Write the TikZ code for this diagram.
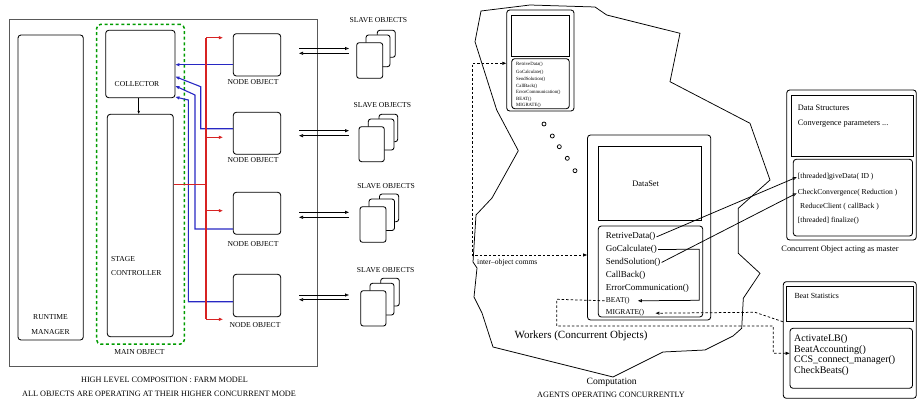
\documentclass[tikz,border=0pt]{standalone}
\usepackage{fontspec}
\setmainfont{Liberation Serif}
\usetikzlibrary{arrows.meta,calc}

\definecolor{farmred}{RGB}{215,35,35}
\definecolor{farmblue}{RGB}{40,40,195}
\definecolor{farmgreen}{RGB}{0,155,0}

\newcommand\fcaps{\fontsize{7.6}{9}\selectfont}
\newcommand\fcapt{\fontsize{8.2}{10}\selectfont}
\newcommand\ftiny{\fontsize{4.8}{5.5}\selectfont}
\newcommand\fmeth{\fontsize{9}{11}\selectfont}
\newcommand\fsmeth{\fontsize{7.5}{9}\selectfont}
\newcommand\flab{\fontsize{8.3}{10}\selectfont}
\newcommand\fmast{\fontsize{7.6}{9}\selectfont}
\newcommand\fbeat{\fontsize{10}{12}\selectfont}

\tikzset{
  rbox/.style={draw, rounded corners=3pt, line width=0.85pt, fill=white, inner sep=0pt},
  sbox/.style={draw, line width=0.85pt, fill=white, inner sep=0pt},
  lbl/.style={inner sep=0pt, anchor=mid},
  lbw/.style={inner sep=0pt, anchor=mid west},
  mtx/.style={inner sep=1pt, anchor=mid west},
  bluel/.style={draw=farmblue, line width=1.1pt},
  redl/.style={draw=farmred, line width=1.1pt},
  opent/.style={-{Triangle[open,length=4pt,width=3pt]}},
  filt/.style={-{Triangle[length=4pt,width=3pt]}},
  slave/.style={draw, rounded corners=2.5pt, line width=0.85pt, fill=white},
  dashln/.style={dash pattern=on 2.5pt off 2pt, line width=0.75pt},
  ring/.style={draw, circle, line width=0.75pt, minimum size=4pt, inner sep=0pt},
}

\begin{document}
\begin{tikzpicture}[x=1pt,y=-1pt]
\useasboundingbox (0,0) rectangle (917,401);

% ---------------- farm model ----------------
\node[draw=black!65, line width=0.75pt, minimum width=308pt, minimum height=347pt, inner sep=0pt] (frame) at (163,192.5) {};
\node[rbox, minimum width=65.3pt, minimum height=305pt] (rtm) at (50.65,187.5) {};
\node[lbl] (rtml1) at (50.5,317) {\fcaps RUNTIME};
\node[lbl] (rtml2) at (50.5,332) {\fcaps MANAGER};

\node[draw=farmgreen, rounded corners=4pt, line width=1.5pt, dash pattern=on 3pt off 2.6pt, minimum width=87.6pt, minimum height=319.7pt, inner sep=0pt] (mainobj) at (140.5,184.2) {};
\node[lbl] (mainl) at (139.5,352.5) {\fcaps MAIN OBJECT};

\node[rbox, minimum width=69.3pt, minimum height=67.4pt] (coll) at (140.35,64) {};
\node[lbl] (colll) at (137,84.5) {\fcaps COLLECTOR};
\node[rbox, minimum width=66pt, minimum height=222.4pt] (stage) at (140.3,225.5) {};
\node[lbw] (stl1) at (111,259.5) {\fcaps STAGE};
\node[lbw] (stl2) at (111,273.5) {\fcaps CONTROLLER};
\draw[line width=0.75pt, -{Triangle[open,length=3pt,width=2.4pt]}] (coll.south -| 138.7,0) -- (stage.north -| 138.7,0);

% node objects
\node[rbox, minimum width=47.4pt, minimum height=42.3pt] (n1) at (257,54.85) {};
\node[rbox, minimum width=47.4pt, minimum height=42pt] (n2) at (257,133.3) {};
\node[rbox, minimum width=47.4pt, minimum height=42pt] (n3) at (257,213.3) {};
\node[rbox, minimum width=47.4pt, minimum height=42.4pt] (n4) at (257,295.5) {};
\node[lbl] (n1l) at (253,82.5) {\fcaps NODE OBJECT};
\node[lbl] (n2l) at (253,160.5) {\fcaps NODE OBJECT};
\node[lbl] (n3l) at (253,244.5) {\fcaps NODE OBJECT};
\node[lbl] (n4l) at (255,325) {\fcaps NODE OBJECT};

% results back to the collector
\draw[bluel, opent] (n1.west |- 0,64.7) -- (coll.east |- 0,64.7);
\draw[bluel, opent] (n2.west |- 0,128.7) -- (200.7,128.7) -- (200.7,86.7) -- (coll.east |- 0,76.7);
\draw[bluel, opent] (n3.west |- 0,229) -- (195,229) -- (195,95) -- (coll.east |- 0,86);
\draw[bluel, opent] (n4.west |- 0,301.7) -- (188.3,301.7) -- (188.3,100) -- (coll.east |- 0,97);

% work distributed by the stage controller
\draw[redl] (stage.east |- 0,184.3) -- (206,184.3);
\draw[redl] (206,37.7) -- (206,319.3);
\coordinate (r1) at ($(n1.west |- 0,37.7)+(-10,0)$);
\coordinate (r2) at ($(n2.west |- 0,137.3)+(-10,0)$);
\coordinate (r3) at ($(n3.west |- 0,210.7)+(-10,0)$);
\coordinate (r4) at ($(n4.west |- 0,319.3)+(-10,0)$);
\foreach \r in {r1,r2,r3,r4}{\draw[redl, opent] (206,0 |- \r) -- (\r);}

% node <-> slave exchanges
\foreach \ya/\yb in {48.5/53.3, 130.7/135.7, 212.3/217.3, 295/299.7}{
  \draw[line width=0.75pt, opent] (299,\ya) -- (349,\ya);
  \draw[line width=0.75pt, opent] (349,\yb) -- (299,\yb);
}

% slave object stacks
\draw[slave] (377.3,30.3) rectangle (395.3,57.3);
\draw[slave] (366,35) rectangle (390,66.7);
\draw[slave] (356.7,42.7) rectangle (382.7,78.3);
\node[lbl] (sl1) at (378.3,20) {\fcaps SLAVE OBJECTS};

\draw[slave] (379,114.3) rectangle (397.7,141.7);
\draw[slave] (368.3,119) rectangle (394,150);
\draw[slave] (359,126.7) rectangle (384.3,161.7);
\node[lbl] (sl2) at (382.3,105.3) {\fcaps SLAVE OBJECTS};

\draw[slave] (379.5,194) rectangle (398.7,221.7);
\draw[slave] (369,199) rectangle (394.5,230.5);
\draw[slave] (360,206.7) rectangle (386,242.3);
\node[lbl] (sl3) at (386,186) {\fcaps SLAVE OBJECTS};

\draw[slave] (380.7,278.3) rectangle (399.3,306);
\draw[slave] (370,283.3) rectangle (394,315);
\draw[slave] (360.7,290.7) rectangle (386,326);
\node[lbl] (sl4) at (385.7,270.7) {\fcaps SLAVE OBJECTS};

\node[lbl] (capa) at (164.5,380.5) {\fcapt HIGH LEVEL COMPOSITION : FARM MODEL};
\node[lbl] (capb) at (159,393.8) {\fcapt ALL OBJECTS ARE OPERATING AT THEIR HIGHER CONCURRENT MODE};

% ---------------- computation ----------------
\draw[line width=0.75pt] (481,11) -- (530,5) -- (595,7) -- (606.7,15) -- (680,33.3) -- (670,81.7)
  -- (750,123.3) -- (770,180) -- (738.3,208.3) -- (738.3,253.3) -- (760,273.3) -- (743.3,298.3)
  -- (741.7,328.3) -- (733,336) -- (705,350) -- (663,352) -- (613,377) -- (493,347) -- (482,313)
  -- (474,297) -- (477,268) -- (473,262) -- (476,215) -- (492,198) -- (518.3,150.7)
  -- (496.7,110) -- (475,41.7) -- cycle;

% small worker
\node[rbox, minimum width=67.3pt, minimum height=101pt] (sOuter) at (540.35,60.5) {};
\node[sbox, minimum width=57.3pt, minimum height=41pt] (sTop) at (540.35,35.5) {};
\node[rbox, minimum width=57.6pt, minimum height=50pt] (sMeth) at (540.5,83.7) {};
\node[lbw] (s1) at (516,63.3) {\ftiny RetriveData()};
\node[lbw] (s2) at (516,71.3) {\ftiny GoCalculate()};
\node[lbw] (s3) at (516,78.7) {\ftiny SendSolution()};
\node[lbw] (s4) at (516,85.3) {\ftiny CallBack()};
\node[lbw] (s5) at (516,91.7) {\ftiny ErrorCommunication()};
\node[lbw] (s6) at (516,98.5) {\ftiny BEAT()};
\node[lbw] (s7) at (516,104.5) {\ftiny MIGRATE()};

\node[ring] (d1) at (544,124) {};
\node[ring] (d2) at (552.3,136) {};
\node[ring] (d3) at (559.3,146.7) {};
\node[ring] (d4) at (567.3,158.3) {};
\node[ring] (d5) at (575,170.7) {};

% big worker
\node[rbox, minimum width=123.2pt, minimum height=185pt] (bOuter) at (649.1,227.5) {};
\node[sbox, minimum width=103.4pt, minimum height=74pt] (bData) at (650,183) {};
\node[lbl] (bDatal) at (645.7,184.3) {\fontsize{8.4}{10}\selectfont DataSet};
\node[rbox, minimum width=104.4pt, minimum height=91pt] (bMeth) at (650.5,271.5) {};
\node[mtx] (mRet) at (604.7,236.7) {\fmeth RetriveData()};
\node[mtx] (mGo) at (604.7,249.3) {\fmeth GoCalculate()};
\node[mtx] (mSend) at (604.7,262.3) {\fmeth SendSolution()};
\node[mtx] (mCall) at (604.7,275.3) {\fmeth CallBack()};
\node[mtx] (mErr) at (604.7,288) {\fmeth ErrorCommunication()};
\node[mtx] (mBeat) at (604.7,300.3) {\fsmeth BEAT()};
\node[mtx] (mMig) at (604.7,312.7) {\fsmeth MIGRATE()};

\draw[line width=0.75pt, opent] (mGo.east) -- (699.3,249.3) -- (699.3,300.3) -- ([xshift=7pt]mBeat.east);

\node[lbl] (workl) at (581,336.5) {\fontsize{11}{13}\selectfont Workers (Concurrent Objects)};
\node[lbl] (compl) at (611.7,382) {\fontsize{9.6}{11}\selectfont Computation};
\node[lbl] (agl) at (611,395) {\fcapt AGENTS OPERATING CONCURRENTLY};

% inter-object communication
\draw[dashln, {Triangle[length=4pt,width=3pt]}-{Triangle[length=4pt,width=3pt]}] (sOuter.west |- 0,63.3) -- (472.3,63.3) -- (472.3,255) -- (bOuter.west |- 0,255);
\node[lbw] (iocl) at (477,262) {\fontsize{7.6}{9}\selectfont inter--object comms};

% master object
\node[rbox, minimum width=129.6pt, minimum height=150pt] (mOuter) at (851.5,165) {};
\node[sbox, minimum width=122.5pt, minimum height=61.7pt] (mHead) at (852.25,125.85) {};
\node[lbw] (mh1) at (797.7,108.3) {\flab Data Structures};
\node[lbw] (mh2) at (797.7,123.3) {\flab Convergence parameters ...};
\node[rbox, minimum width=119.2pt, minimum height=76.7pt] (mMeth) at (852.9,197.65) {};
\node[mtx] (gGive) at (796.7,176.7) {\fmast [threaded]giveData( ID )};
\node[mtx] (gConv) at (796.7,192.7) {\fmast CheckConvergence( Reduction )};
\node[mtx] (gRed) at (799,206) {\fmast ReduceClient ( callBack )};
\node[mtx] (gFin) at (796.7,220.7) {\fmast [threaded] finalize()};
\node[lbl] (mcap) at (840,249.3) {\flab Concurrent Object acting as master};

\draw[line width=0.75pt, opent] (mRet.east) -- (gGive.west);
\draw[line width=0.75pt, opent] (mSend.east) -- (gConv.west);

% beat statistics object
\node[rbox, minimum width=133pt, minimum height=116.6pt] (tOuter) at (849.8,340) {};
\node[sbox, minimum width=126.8pt, minimum height=35pt] (tHead) at (850.1,304.2) {};
\node[lbw] (th) at (794.3,296) {\fontsize{7.8}{9}\selectfont Beat Statistics};
\node[rbox, minimum width=122.5pt, minimum height=60pt] (tMeth) at (851.25,358.3) {};
\node[mtx] (tA) at (793,339.3) {\fbeat ActivateLB()};
\node[mtx] (tB) at (793,350) {\fbeat BeatAccounting()};
\node[mtx] (tC) at (793,360.7) {\fbeat CCS\_connect\_manager()};
\node[mtx] (tD) at (793,371) {\fbeat CheckBeats()};

\draw[dashln, opent] (tOuter.west |- 0,321.7) -- (755,312.3) -- ([xshift=10pt]mMig.east);
\draw[dashln, filt] (mBeat.west) -- (556.7,299.3) -- (556.7,326) -- (773.3,326) -- (773.3,353.3) -- (tMeth.west |- 0,353.3);
\end{tikzpicture}
\end{document}
